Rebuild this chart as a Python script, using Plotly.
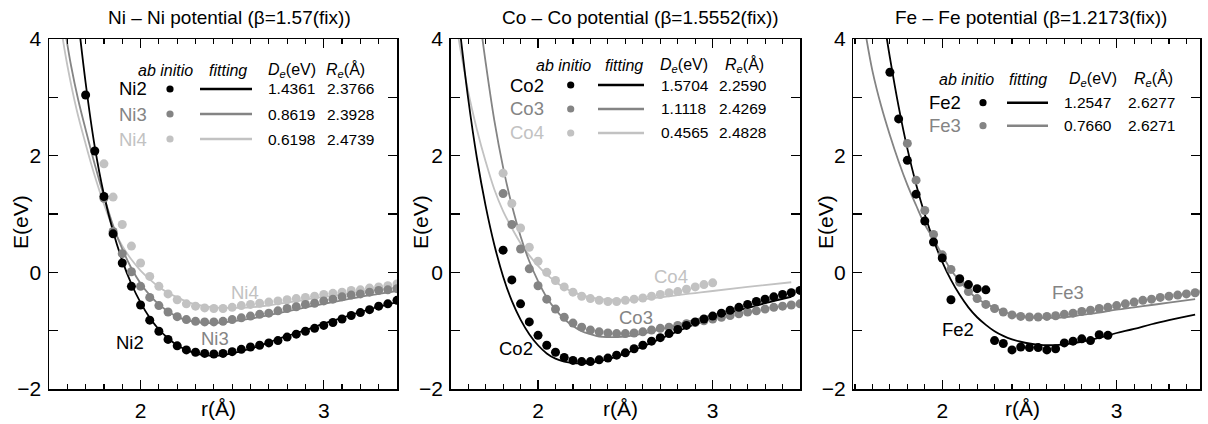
import plotly.graph_objects as go

W, H = 1208, 424
FONT = "Liberation Sans, Arial, Helvetica, sans-serif"
BLACK = "#000000"
MID = "#848484"
LIGHT = "#c2c2c2"

# ---------------- Ni panel data ----------------
ni2_r = [1.70, 1.75, 1.80, 1.85, 1.90, 1.95, 2.00, 2.05, 2.10, 2.15, 2.20, 2.25, 2.30, 2.35, 2.40, 2.45, 2.50, 2.55,
         2.60, 2.65, 2.70, 2.75, 2.80, 2.85, 2.90, 2.95, 3.00, 3.05, 3.10, 3.15, 3.20, 3.25, 3.30, 3.35, 3.40]
ni2_E = [3.04, 2.08, 1.30, 0.66, 0.16, -0.24, -0.56, -0.82, -1.01, -1.15, -1.26, -1.33, -1.37, -1.39, -1.40, -1.39,
         -1.36, -1.32, -1.28, -1.25, -1.21, -1.17, -1.11, -1.06, -1.01, -0.96, -0.91, -0.86, -0.80, -0.74, -0.69,
         -0.64, -0.58, -0.54, -0.48]
ni34_r = [1.80, 1.85, 1.90, 1.95, 2.00, 2.05, 2.10, 2.15, 2.20, 2.25, 2.30, 2.35, 2.40, 2.45, 2.50, 2.55, 2.60,
          2.65, 2.70, 2.75, 2.80, 2.85, 2.90, 2.95, 3.00, 3.05, 3.10, 3.15, 3.20, 3.25, 3.30, 3.35, 3.40]
ni3_E = [1.27, 0.70, 0.32, 0.01, -0.24, -0.43, -0.57, -0.68, -0.76, -0.81, -0.84, -0.85, -0.85, -0.84, -0.81, -0.78,
         -0.75, -0.72, -0.70, -0.66, -0.62, -0.59, -0.55, -0.53, -0.49, -0.46, -0.42, -0.39, -0.37, -0.34, -0.31,
         -0.30, -0.28]
ni4_E = [1.86, 1.29, 0.82, 0.45, 0.16, -0.07, -0.24, -0.37, -0.47, -0.54, -0.58, -0.61, -0.62, -0.62, -0.60, -0.57,
         -0.55, -0.53, -0.51, -0.49, -0.47, -0.45, -0.43, -0.41, -0.38, -0.36, -0.34, -0.31, -0.30, -0.27, -0.25,
         -0.23, -0.20]
ni2_fit_r = [1.65, 1.70, 1.75, 1.80, 1.85, 1.90, 1.95, 2.00, 2.05, 2.10, 2.15, 2.20, 2.25, 2.30, 2.35, 2.40, 2.45,
             2.50, 2.60, 2.70, 2.80, 2.90, 3.00, 3.10, 3.20, 3.30, 3.40]
ni2_fit_E = [4.60, 3.25, 2.15, 1.33, 0.70, 0.20, -0.20, -0.52, -0.78, -0.98, -1.13, -1.25, -1.33, -1.39, -1.42,
             -1.43, -1.42, -1.39, -1.31, -1.20, -1.09, -0.99, -0.88, -0.78, -0.68, -0.59, -0.51]
ni3_fit_r = [1.58, 1.62, 1.66, 1.70, 1.75, 1.80, 1.85, 1.90, 1.95, 2.00, 2.05, 2.10, 2.15, 2.20, 2.25, 2.30, 2.35,
             2.40, 2.50, 2.60, 2.70, 2.80, 2.90, 3.00, 3.10, 3.20, 3.30, 3.40]
ni3_fit_E = [4.30, 3.55, 2.95, 2.45, 1.85, 1.30, 0.80, 0.40, 0.07, -0.19, -0.39, -0.55, -0.67, -0.76, -0.82, -0.85,
             -0.87, -0.87, -0.84, -0.795, -0.735, -0.67, -0.60, -0.54, -0.48, -0.42, -0.37, -0.32]
ni4_fit_r = [1.56, 1.60, 1.65, 1.70, 1.75, 1.80, 1.85, 1.90, 1.95, 2.00, 2.05, 2.10, 2.15, 2.20, 2.25, 2.30, 2.35,
             2.40, 2.45, 2.50, 2.60, 2.70, 2.80, 2.90, 3.00, 3.10, 3.20, 3.30, 3.40]
ni4_fit_E = [4.30, 3.55, 2.80, 2.20, 1.65, 1.17, 0.76, 0.45, 0.22, 0.03, -0.12, -0.25, -0.35, -0.43, -0.50, -0.55,
             -0.58, -0.60, -0.61, -0.61, -0.60, -0.565, -0.52, -0.47, -0.42, -0.38, -0.33, -0.29, -0.26]

# ---------------- Co panel data ----------------
co_r = [1.80, 1.85, 1.90, 1.95, 2.00, 2.05, 2.10, 2.15, 2.20, 2.25, 2.30, 2.35, 2.40, 2.45, 2.50, 2.55, 2.60, 2.65,
        2.70, 2.75, 2.80, 2.85, 2.90, 2.95, 3.00, 3.05, 3.10, 3.15, 3.20, 3.25, 3.30, 3.35, 3.40, 3.45, 3.50]
co2_E = [0.38, -0.13, -0.54, -0.85, -1.08, -1.25, -1.37, -1.46, -1.51, -1.53, -1.53, -1.50, -1.47, -1.42, -1.38,
         -1.31, -1.25, -1.18, -1.12, -1.05, -0.98, -0.91, -0.85, -0.80, -0.75, -0.70, -0.65, -0.60, -0.55, -0.50,
         -0.46, -0.42, -0.38, -0.35, -0.31]
co3_E = [1.35, 0.82, 0.40, 0.06, -0.23, -0.46, -0.63, -0.77, -0.87, -0.94, -0.99, -1.02, -1.04, -1.05, -1.05, -1.04,
         -1.02, -0.99, -0.96, -0.94, -0.91, -0.88, -0.86, -0.83, -0.80, -0.77, -0.74, -0.71, -0.68, -0.66, -0.63,
         -0.60, -0.58, -0.56, -0.54]
co4_r = [1.80, 1.85, 1.90, 1.95, 2.00, 2.05, 2.10, 2.15, 2.20, 2.25, 2.30, 2.35, 2.40, 2.45, 2.50, 2.55, 2.60, 2.65,
         2.70, 2.75, 2.80, 2.85, 2.90, 2.95, 3.00]
co4_E = [1.70, 1.18, 0.76, 0.43, 0.19, 0.00, -0.14, -0.25, -0.34, -0.41, -0.45, -0.48, -0.50, -0.50, -0.48, -0.46,
         -0.44, -0.41, -0.38, -0.35, -0.33, -0.29, -0.25, -0.21, -0.18]
co2_fit_r = [1.55, 1.60, 1.65, 1.70, 1.75, 1.80, 1.85, 1.90, 1.95, 2.00, 2.05, 2.10, 2.15, 2.20, 2.25, 2.30, 2.40,
             2.50, 2.60, 2.70, 2.80, 2.90, 3.00, 3.10, 3.20, 3.30, 3.45]
co2_fit_E = [4.22, 2.98, 1.96, 1.14, 0.47, -0.07, -0.49, -0.81, -1.06, -1.25, -1.39, -1.48, -1.53, -1.555, -1.56,
             -1.55, -1.49, -1.39, -1.27, -1.14, -1.01, -0.89, -0.78, -0.69, -0.61, -0.53, -0.42]
co3_fit_r = [1.66, 1.70, 1.75, 1.80, 1.85, 1.90, 1.95, 2.00, 2.05, 2.10, 2.15, 2.20, 2.25, 2.30, 2.35, 2.40, 2.45,
             2.50, 2.60, 2.70, 2.80, 2.90, 3.00, 3.10, 3.20, 3.30, 3.45]
co3_fit_E = [4.50, 3.60, 2.60, 1.80, 1.15, 0.62, 0.19, -0.15, -0.43, -0.64, -0.80, -0.92, -1.01, -1.06, -1.10,
             -1.11, -1.11, -1.10, -1.05, -0.98, -0.90, -0.81, -0.73, -0.65, -0.57, -0.50, -0.41]
co4_fit_r = [1.54, 1.60, 1.65, 1.70, 1.75, 1.80, 1.85, 1.90, 1.95, 2.00, 2.05, 2.10, 2.15, 2.20, 2.25, 2.30, 2.35,
             2.40, 2.50, 2.60, 2.70, 2.80, 2.90, 3.00, 3.20, 3.45]
co4_fit_E = [4.10, 3.10, 2.45, 1.90, 1.42, 1.05, 0.76, 0.50, 0.29, 0.11, -0.04, -0.16, -0.26, -0.34, -0.39, -0.43,
             -0.455, -0.47, -0.475, -0.46, -0.43, -0.39, -0.355, -0.32, -0.25, -0.17]

# ---------------- Fe panel data ----------------
fe2_r = [1.70, 1.75, 1.80, 1.85, 1.90, 1.95, 2.00, 2.05, 2.10, 2.15, 2.20, 2.25, 2.30, 2.35, 2.40, 2.45, 2.50, 2.55,
         2.60, 2.65, 2.70, 2.75, 2.80, 2.85, 2.90, 2.95]
fe2_E = [3.43, 2.63, 1.92, 1.34, 0.88, 0.52, 0.245, -0.47, -0.11, -0.21, -0.28, -0.30, -1.17, -1.22, -1.33, -1.28,
         -1.29, -1.29, -1.33, -1.31, -1.21, -1.18, -1.14, -1.17, -1.07, -1.08]
fe3_r = [1.80, 1.85, 1.90, 1.95, 2.00, 2.05, 2.10, 2.15, 2.20, 2.25, 2.30, 2.35, 2.40, 2.45, 2.50, 2.55, 2.60, 2.65,
         2.70, 2.75, 2.80, 2.85, 2.90, 2.95, 3.00, 3.05, 3.10, 3.15, 3.20, 3.25, 3.30, 3.35, 3.40, 3.45, 3.50]
fe3_E = [2.21, 1.58, 1.06, 0.65, 0.30, 0.05, -0.17, -0.33, -0.45, -0.55, -0.62, -0.68, -0.73, -0.755, -0.765, -0.765,
         -0.755, -0.745, -0.72, -0.70, -0.67, -0.65, -0.62, -0.60, -0.57, -0.54, -0.51, -0.48, -0.46, -0.43, -0.41,
         -0.39, -0.37, -0.35, -0.33]
fe2_fit_r = [1.68, 1.70, 1.75, 1.80, 1.85, 1.90, 1.95, 2.00, 2.05, 2.10, 2.15, 2.20, 2.25, 2.30, 2.35, 2.40, 2.45,
             2.50, 2.55, 2.60, 2.70, 2.80, 2.90, 3.00, 3.10, 3.20, 3.30, 3.45]
fe2_fit_E = [4.05, 3.68, 2.84, 2.12, 1.51, 0.99, 0.55, 0.18, -0.13, -0.385, -0.60, -0.77, -0.90, -1.01, -1.09, -1.15,
             -1.19, -1.22, -1.24, -1.25, -1.235, -1.19, -1.12, -1.04, -0.97, -0.89, -0.82, -0.725]
fe3_fit_r = [1.56, 1.60, 1.65, 1.70, 1.75, 1.80, 1.85, 1.90, 1.95, 2.00, 2.05, 2.10, 2.15, 2.20, 2.25, 2.30, 2.35,
             2.40, 2.45, 2.50, 2.60, 2.70, 2.80, 2.90, 3.00, 3.10, 3.20, 3.30, 3.45]
fe3_fit_E = [4.10, 3.45, 2.85, 2.35, 1.90, 1.50, 1.15, 0.82, 0.57, 0.30, 0.04, -0.15, -0.32, -0.45, -0.54, -0.61,
             -0.67, -0.72, -0.75, -0.77, -0.78, -0.77, -0.73, -0.69, -0.64, -0.60, -0.56, -0.52, -0.46]

# ---------------- legend table texts ----------------
ni_names = ["Ni2", "Ni3", "Ni4"]
ni_De = ["1.4361", "0.8619", "0.6198"]
ni_Re = ["2.3766", "2.3928", "2.4739"]
co_names = ["Co2", "Co3", "Co4"]
co_De = ["1.5704", "1.1118", "0.4565"]
co_Re = ["2.2590", "2.4269", "2.4828"]
fe_names = ["Fe2", "Fe3"]
fe_De = ["1.2547", "0.7660"]
fe_Re = ["2.6277", "2.6271"]
titles = ["Ni \u2013 Ni potential (\u03b2=1.57(fix))",
          "Co \u2013 Co potential (\u03b2=1.5552(fix))",
          "Fe \u2013 Fe potential (\u03b2=1.2173(fix))"]
y_tickvals = [-2, 0, 2, 4]
y_ticktext = ["\u22122", "0", "2", "4"]


def PX(px):
    return px / W


def PY(py):
    return (H - py) / H


panels = [
    dict(ax="", dom=(49, 397), rng=[1.5, 3.4], title_x=229, e_x=20, r_x=218,
         dots=[(ni34_r, ni4_E, LIGHT), (ni34_r, ni3_E, MID), (ni2_r, ni2_E, BLACK)],
         fits=[(ni4_fit_r, ni4_fit_E, LIGHT), (ni3_fit_r, ni3_fit_E, MID), (ni2_fit_r, ni2_fit_E, BLACK)],
         labels=[("Ni2", 1.944, -1.21, BLACK), ("Ni3", 2.406, -1.13, MID), ("Ni4", 2.57, -0.35, LIGHT)],
         names=ni_names, De=ni_De, Re=ni_Re, colors=[BLACK, MID, LIGHT],
         head_y=70, rows_y=[89, 114, 139], head_x=[136, 207, 266, 324], name_x=117, dot_x=170,
         line_x=(200, 252), num_x=(266, 325)),
    dict(ax="2", dom=(450.7, 800), rng=[1.5, 3.5], title_x=640, e_x=420, r_x=620,
         dots=[(co4_r, co4_E, LIGHT), (co_r, co3_E, MID), (co_r, co2_E, BLACK)],
         fits=[(co4_fit_r, co4_fit_E, LIGHT), (co3_fit_r, co3_fit_E, MID), (co2_fit_r, co2_fit_E, BLACK)],
         labels=[("Co2", 1.874, -1.30, BLACK), ("Co3", 2.56, -0.78, MID), ("Co4", 2.76, -0.07, LIGHT)],
         names=co_names, De=co_De, Re=co_Re, colors=[BLACK, MID, LIGHT],
         head_y=65, rows_y=[85, 109, 133], head_x=[534, 603, 658, 723], name_x=508, dot_x=570.7,
         line_x=(598, 644), num_x=(659, 717)),
    dict(ax="3", dom=(853.3, 1200), rng=[1.49, 3.478], title_x=1031, e_x=825, r_x=1022,
         dots=[(fe3_r, fe3_E, MID), (fe2_r, fe2_E, BLACK)],
         fits=[(fe3_fit_r, fe3_fit_E, MID), (fe2_fit_r, fe2_fit_E, BLACK)],
         labels=[("Fe2", 2.092, -0.98, BLACK), ("Fe3", 2.72, -0.35, MID)],
         names=fe_names, De=fe_De, Re=fe_Re, colors=[BLACK, MID],
         head_y=79, rows_y=[102.7, 125.7], head_x=[937, 1007, 1067, 1132], name_x=927, dot_x=983,
         line_x=(1007, 1048), num_x=(1062, 1126)),
]

fig = go.Figure()
annotations = []
shapes = []
layout_axes = {}
ydom = [(H - 389) / H, (H - 39) / H]

for k, p in enumerate(panels):
    xa = "x" + p["ax"]
    ya = "y" + p["ax"]
    for (r, e, c) in p["fits"]:
        fig.add_trace(go.Scatter(x=r, y=e, mode="lines", line=dict(color=c, width=1.8, shape="spline"),
                                 xaxis=xa, yaxis=ya, showlegend=False, hoverinfo="skip"))
    for (r, e, c) in p["dots"]:
        fig.add_trace(go.Scatter(x=r, y=e, mode="markers", marker=dict(color=c, size=9),
                                 xaxis=xa, yaxis=ya, showlegend=False))
    layout_axes["xaxis" + p["ax"]] = dict(
        domain=[PX(p["dom"][0]), PX(p["dom"][1])], range=p["rng"], anchor=ya, automargin=False,
        tickmode="linear", tick0=0, dtick=1, ticks="inside", ticklen=9, tickwidth=1.3, tickcolor=BLACK,
        minor=dict(ticks="inside", ticklen=5, tickwidth=1.1, tickcolor=BLACK, tickmode="linear", tick0=0, dtick=0.1),
        showline=True, linecolor=BLACK, linewidth=1.5, mirror="allticks", showgrid=False, zeroline=False,
        tickfont=dict(family=FONT, size=21, color=BLACK), ticklabelstandoff=2)
    layout_axes["yaxis" + p["ax"]] = dict(
        domain=ydom, range=[-2, 4], anchor=xa, automargin=False,
        tickmode="array", tickvals=y_tickvals, ticktext=y_ticktext,
        ticks="inside", ticklen=9, tickwidth=1.3, tickcolor=BLACK,
        minor=dict(ticks="inside", ticklen=9, tickwidth=1.3, tickcolor=BLACK, tickmode="linear", tick0=0, dtick=1),
        showline=True, linecolor=BLACK, linewidth=1.5, mirror="allticks", showgrid=False, zeroline=False,
        tickfont=dict(family=FONT, size=21, color=BLACK), ticklabelstandoff=2)

    annotations.append(dict(text=titles[k], x=PX(p["title_x"]), y=PY(17), xref="paper",
                            yref="paper", showarrow=False, xanchor="center", yanchor="middle",
                            font=dict(family=FONT, size=19, color=BLACK)))
    annotations.append(dict(text="E(eV)", x=PX(p["e_x"]), y=PY(222), xref="paper", yref="paper",
                            showarrow=False, textangle=-90, xanchor="center", yanchor="middle",
                            font=dict(family=FONT, size=21, color=BLACK)))
    annotations.append(dict(text="r(\u00c5)", x=PX(p["r_x"]), y=PY(408), xref="paper", yref="paper",
                            showarrow=False, xanchor="center", yanchor="middle",
                            font=dict(family=FONT, size=21, color=BLACK)))
    for (t, lx, ly, c) in p["labels"]:
        annotations.append(dict(text=t, x=lx, y=ly, xref=xa, yref=ya, showarrow=False,
                                xanchor="center", yanchor="middle", font=dict(family=FONT, size=18.5, color=c)))
    heads = ["<i>ab initio</i>", "<i>fitting</i>", "<i>D<sub>e</sub></i>(eV)", "<i>R<sub>e</sub></i>(\u00c5)"]
    for hx, ht in zip(p["head_x"], heads):
        annotations.append(dict(text=ht, x=PX(hx), y=PY(p["head_y"]), xref="paper", yref="paper",
                                showarrow=False, xanchor="left", yanchor="middle",
                                font=dict(family=FONT, size=16, color=BLACK)))
    for i, ry in enumerate(p["rows_y"]):
        c = p["colors"][i]
        annotations.append(dict(text=p["names"][i], x=PX(p["name_x"]), y=PY(ry), xref="paper", yref="paper",
                                showarrow=False, xanchor="left", yanchor="middle",
                                font=dict(family=FONT, size=18.5, color=c)))
        annotations.append(dict(text=p["De"][i], x=PX(p["num_x"][0]), y=PY(ry), xref="paper", yref="paper",
                                showarrow=False, xanchor="left", yanchor="middle",
                                font=dict(family=FONT, size=15.5, color=BLACK)))
        annotations.append(dict(text=p["Re"][i], x=PX(p["num_x"][1]), y=PY(ry), xref="paper", yref="paper",
                                showarrow=False, xanchor="left", yanchor="middle",
                                font=dict(family=FONT, size=15.5, color=BLACK)))
        shapes.append(dict(type="circle", xref="paper", yref="paper",
                           x0=PX(p["dot_x"] - 3.6), x1=PX(p["dot_x"] + 3.6),
                           y0=PY(ry + 3.6), y1=PY(ry - 3.6), fillcolor=c, line=dict(width=0)))
        shapes.append(dict(type="line", xref="paper", yref="paper",
                           x0=PX(p["line_x"][0]), x1=PX(p["line_x"][1]), y0=PY(ry), y1=PY(ry),
                           line=dict(color=c, width=2.6)))

fig.update_layout(width=W, height=H, margin=dict(l=0, r=0, t=0, b=0, autoexpand=False),
                  paper_bgcolor="white", plot_bgcolor="white",
                  font=dict(family=FONT, color=BLACK), showlegend=False, hovermode=False,
                  annotations=annotations, shapes=shapes, **layout_axes)

fig.write_html("out.html", config={"displayModeBar": False, "staticPlot": True},
               post_script="document.body.style.margin='0';document.body.style.padding='0';"
                           "document.documentElement.style.overflow='hidden';")
